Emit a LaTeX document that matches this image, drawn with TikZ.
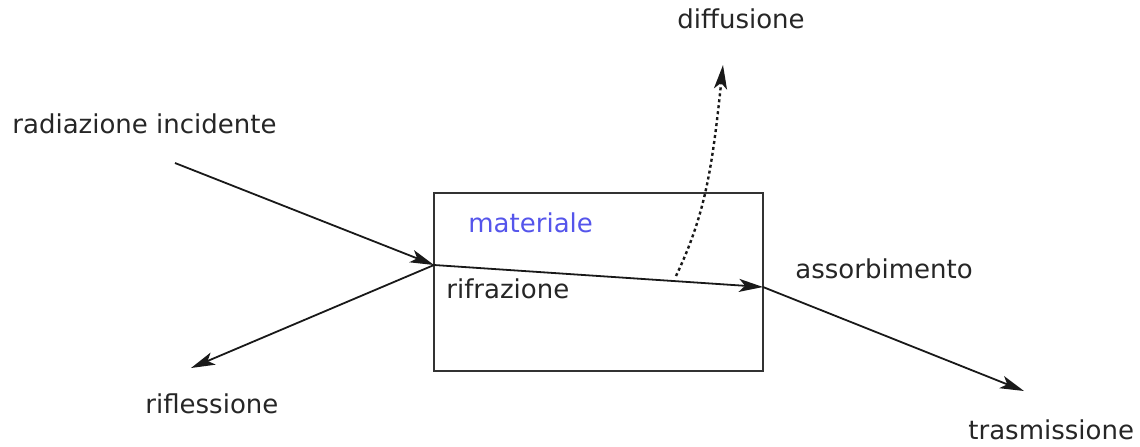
\documentclass[tikz,border=0pt]{standalone}
\usepackage{fontspec}
\setmainfont{DejaVu Sans}
\usepackage{xcolor}
\usetikzlibrary{arrows.meta}
\definecolor{matblue}{RGB}{85,85,235}

\begin{document}
\begin{tikzpicture}[x=0.5pt,y=-0.5pt,>={Stealth[length=12pt,width=6.5pt,inset=3pt]},
  lbl/.style={anchor=base west,inner sep=0pt,font=\fontsize{13}{15}\selectfont,text=black!85},
  ray/.style={->,line width=0.9pt,black!90}]
\useasboundingbox (0,0) rectangle (1140,446);
% the material
\draw[line width=1.1pt,black!80] (434,193) rectangle (763,371);
\node[lbl,text=matblue] (mat) at (468,232) {materiale};
\node[lbl] (rifr) at (446,298) {rifrazione};
% rays
\coordinate (src) at (175,163);
\coordinate (entry) at (434,265);
\coordinate (exit) at (763,287);
\coordinate (refl) at (191,368);
\coordinate (trans) at (1024,391);
\coordinate (scat) at (676,276);
\coordinate (out) at (723,65);
\draw[ray] (src)--(entry);
\draw[ray] (entry)--(exit);
\draw[ray] (entry)--(refl);
\draw[ray] (exit)--(trans);
\draw[ray,line width=1.2pt,dash pattern=on 1.5pt off 1.5pt] (scat) .. controls (705,215) and (712,170) .. (out);
% labels
\node[lbl] (inc) at (12,133) {radiazione incidente};
\node[lbl] (diff) at (677,28) {diffusione};
\node[lbl] (ass) at (795,278) {assorbimento};
\node[lbl] (rifl) at (145,413) {riflessione};
\node[lbl] (tras) at (968,439) {trasmissione};
\end{tikzpicture}
\end{document}
